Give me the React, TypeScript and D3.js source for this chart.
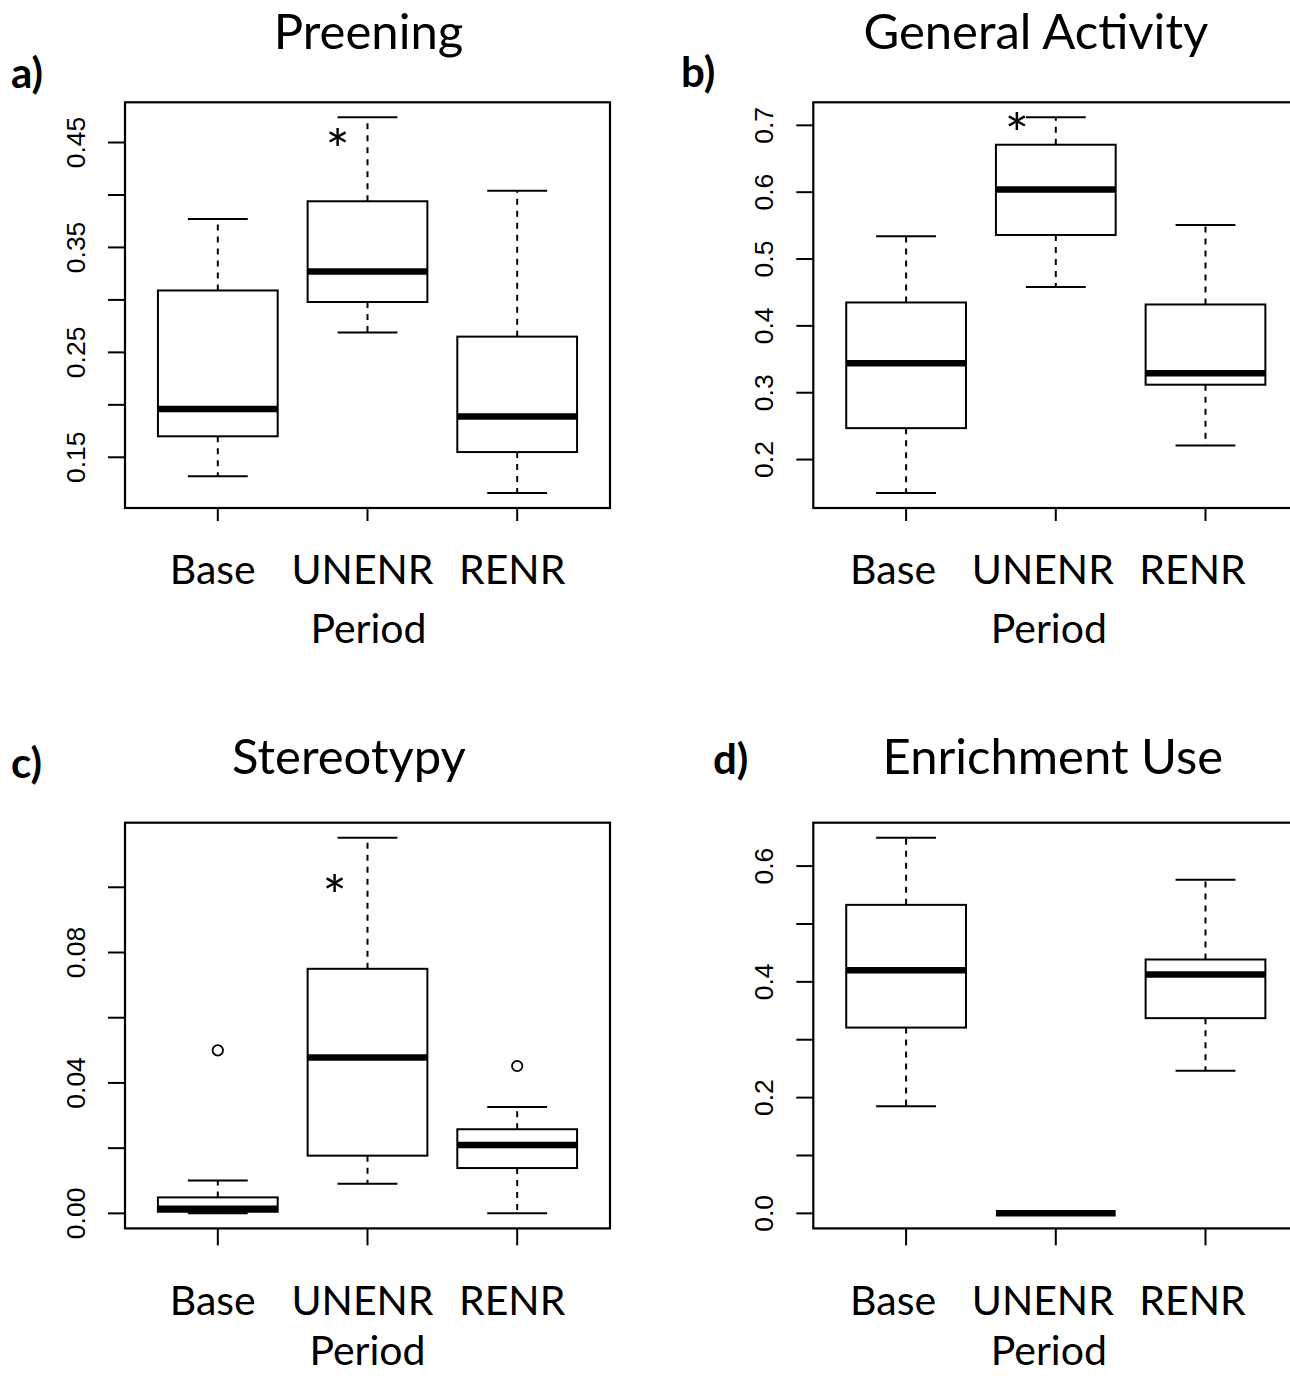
import React, { useEffect, useRef } from "react";
import * as d3 from "d3";

const periods = ["Base", "UNENR", "RENR"];

// five-number summaries: [lower whisker, Q1, median, Q3, upper whisker]
const preeningStats = [
  [0.132, 0.17, 0.196, 0.309, 0.377],
  [0.269, 0.298, 0.327, 0.394, 0.474],
  [0.116, 0.155, 0.189, 0.265, 0.404],
];
const preeningOutliers = [[], [], []];
const preeningTicks = [0.15, 0.2, 0.25, 0.3, 0.35, 0.4, 0.45];
const preeningTickLabels = ["0.15", "", "0.25", "", "0.35", "", "0.45"];
const preeningStars = [[1.8, 0.453]];

const activityStats = [
  [0.15, 0.247, 0.344, 0.435, 0.534],
  [0.458, 0.536, 0.604, 0.671, 0.712],
  [0.221, 0.312, 0.329, 0.432, 0.551],
];
const activityOutliers = [[], [], []];
const activityTicks = [0.2, 0.3, 0.4, 0.5, 0.6, 0.7];
const activityTickLabels = ["0.2", "0.3", "0.4", "0.5", "0.6", "0.7"];
const activityStars = [[1.74, 0.704]];

const stereotypyStats = [
  [0, 0.0005, 0.0014, 0.0049, 0.0101],
  [0.0091, 0.0177, 0.0478, 0.075, 0.1152],
  [0, 0.0139, 0.021, 0.0258, 0.0326],
];
const stereotypyOutliers = [[0.05], [], [0.0452]];
const stereotypyTicks = [0, 0.02, 0.04, 0.06, 0.08, 0.1];
const stereotypyTickLabels = ["0.00", "", "0.04", "", "0.08", ""];
const stereotypyStars = [[1.78, 0.1007]];

const enrichmentStats = [
  [0.185, 0.321, 0.42, 0.533, 0.649],
  [0, 0, 0, 0, 0],
  [0.2465, 0.3373, 0.4125, 0.4386, 0.5763],
];
const enrichmentOutliers = [[], [], []];
const enrichmentTicks = [0, 0.1, 0.2, 0.3, 0.4, 0.5, 0.6];
const enrichmentTickLabels = ["0.0", "", "0.2", "", "0.4", "", "0.6"];
const enrichmentStars = [];

const W = 1290;
const H = 1376;
const plotW = 485;
const plotH = 405.7;
const textFont = "Lato, 'Open Sans', sans-serif";
const tickFont = "'Liberation Sans', Arial, sans-serif";

const panels = [
  {
    letter: "a)", title: "Preening", stats: preeningStats, outliers: preeningOutliers,
    ticks: preeningTicks, tickLabels: preeningTickLabels, stars: preeningStars,
    left: 125, top: 102.3, titleDx: 1, titleY: -53, letterX: 11, letterY: -14,
    xTick: 13, labelY: 76, periodY: 135, labelDx: -5, periodDx: 1,
  },
  {
    letter: "b)", title: "General Activity", stats: activityStats, outliers: activityOutliers,
    ticks: activityTicks, tickLabels: activityTickLabels, stars: activityStars,
    left: 813.3, top: 102.3, titleDx: -20, titleY: -53, letterX: 681, letterY: -15,
    xTick: 13, labelY: 76, periodY: 135, labelDx: -13, periodDx: -7,
  },
  {
    letter: "c)", title: "Stereotypy", stats: stereotypyStats, outliers: stereotypyOutliers,
    ticks: stereotypyTicks, tickLabels: stereotypyTickLabels, stars: stereotypyStars,
    left: 125, top: 822.7, titleDx: -18.5, titleY: -48.7, letterX: 11, letterY: -45,
    xTick: 17, labelY: 86.7, periodY: 137, labelDx: -5, periodDx: 0,
  },
  {
    letter: "d)", title: "Enrichment Use", stats: enrichmentStats, outliers: enrichmentOutliers,
    ticks: enrichmentTicks, tickLabels: enrichmentTickLabels, stars: enrichmentStars,
    left: 813.3, top: 822.7, titleDx: -3, titleY: -49, letterX: 713, letterY: -49,
    xTick: 17, labelY: 86.7, periodY: 137, labelDx: -13, periodDx: -7,
  },
];

function drawPanel(svg, p) {
  const g = svg.append("g").attr("transform", `translate(${p.left},${p.top})`);

  // R-style limits: data range padded by 4%, x from 0.5 to n+0.5 padded by 4%
  const all = p.stats.flat().concat(p.outliers.flat());
  const [lo, hi] = d3.extent(all);
  const pad = (hi - lo) * 0.04;
  const y = d3.scaleLinear().domain([lo - pad, hi + pad]).range([plotH, 0]);
  const xPad = periods.length * 0.04;
  const x = d3.scaleLinear().domain([0.5 - xPad, periods.length + 0.5 + xPad]).range([0, plotW]);
  const half = x(1.4) - x(1);
  const staple = half / 2;

  // y axis ticks and rotated labels
  g.selectAll(".ytick")
    .data(p.ticks)
    .enter()
    .append("line")
    .attr("x1", -17).attr("x2", 0)
    .attr("y1", d => y(d)).attr("y2", d => y(d))
    .attr("stroke", "black").attr("stroke-width", 2);

  g.selectAll(".ylab")
    .data(p.ticks.map((t, i) => ({ t, label: p.tickLabels[i] })).filter(d => d.label))
    .enter()
    .append("text")
    .attr("transform", d => `translate(-40,${y(d.t)}) rotate(-90)`)
    .attr("text-anchor", "middle")
    .attr("font-family", tickFont)
    .attr("font-size", 26.5)
    .attr("fill", "black")
    .text(d => d.label);

  // x axis ticks and labels
  periods.forEach((name, i) => {
    g.append("line")
      .attr("x1", x(i + 1)).attr("x2", x(i + 1))
      .attr("y1", plotH).attr("y2", plotH + p.xTick)
      .attr("stroke", "black").attr("stroke-width", 2);
    g.append("text")
      .attr("x", x(i + 1) + p.labelDx)
      .attr("y", plotH + p.labelY)
      .attr("text-anchor", "middle")
      .attr("font-family", textFont)
      .attr("font-size", 41)
      .text(name);
  });

  g.append("text")
    .attr("x", plotW / 2 + p.periodDx)
    .attr("y", plotH + p.periodY)
    .attr("text-anchor", "middle")
    .attr("font-family", textFont)
    .attr("font-size", 41)
    .text("Period");

  // boxes
  p.stats.forEach((s, i) => {
    const cx = x(i + 1);
    const [mn, q1, med, q3, mx] = s;
    const dash = "6,6";
    g.append("line").attr("x1", cx).attr("x2", cx).attr("y1", y(q3)).attr("y2", y(mx))
      .attr("stroke", "black").attr("stroke-width", 2).attr("stroke-dasharray", dash);
    g.append("line").attr("x1", cx).attr("x2", cx).attr("y1", y(q1)).attr("y2", y(mn))
      .attr("stroke", "black").attr("stroke-width", 2).attr("stroke-dasharray", dash);
    [mn, mx].forEach(v => {
      g.append("line").attr("x1", cx - staple).attr("x2", cx + staple)
        .attr("y1", y(v)).attr("y2", y(v))
        .attr("stroke", "black").attr("stroke-width", 2);
    });
    g.append("rect")
      .attr("x", cx - half).attr("width", half * 2)
      .attr("y", y(q3)).attr("height", Math.max(0, y(q1) - y(q3)))
      .attr("fill", "white").attr("stroke", "black").attr("stroke-width", 2);
    g.append("line").attr("x1", cx - half).attr("x2", cx + half)
      .attr("y1", y(med)).attr("y2", y(med))
      .attr("stroke", "black").attr("stroke-width", 6.5);

    p.outliers[i].forEach(v => {
      g.append("circle").attr("cx", cx).attr("cy", y(v)).attr("r", 5.2)
        .attr("fill", "none").attr("stroke", "black").attr("stroke-width", 1.8);
    });
  });

  // significance stars
  p.stars.forEach(([sx, sy]) => {
    g.append("text")
      .attr("x", x(sx)).attr("y", y(sy) + 31)
      .attr("text-anchor", "middle")
      .attr("font-family", textFont)
      .attr("font-size", 57)
      .text("*");
  });

  // frame
  g.append("rect")
    .attr("width", plotW).attr("height", plotH)
    .attr("fill", "none").attr("stroke", "black").attr("stroke-width", 2.2);

  // title and panel letter
  svg.append("text")
    .attr("x", p.left + plotW / 2 + p.titleDx)
    .attr("y", p.top + p.titleY)
    .attr("text-anchor", "middle")
    .attr("font-family", textFont)
    .attr("font-size", 49)
    .text(p.title);

  svg.append("text")
    .attr("x", p.letterX)
    .attr("y", p.top + p.letterY)
    .attr("font-family", textFont)
    .attr("font-weight", "bold")
    .attr("font-size", 42)
    .text(p.letter);
}

export default function App() {
  const ref = useRef(null);

  useEffect(() => {
    const svg = d3.select(ref.current);
    svg.selectAll("*").remove();
    svg.append("rect").attr("width", W).attr("height", H).attr("fill", "white");
    panels.forEach(p => drawPanel(svg, p));
  }, []);

  return (
    <svg
      ref={ref}
      width={W}
      height={H}
      style={{ position: "absolute", left: 0, top: 0, display: "block" }}
    />
  );
}
